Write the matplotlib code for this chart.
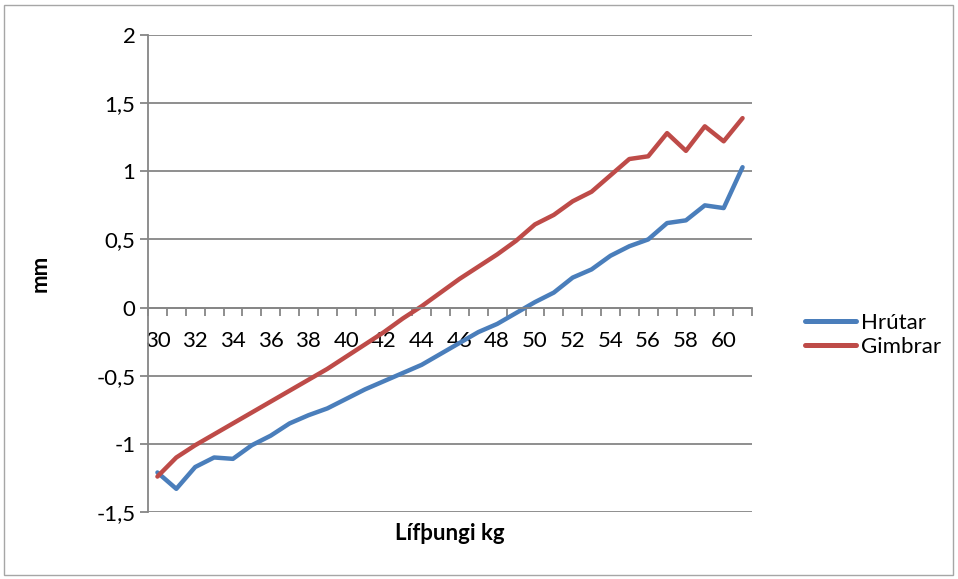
import matplotlib.pyplot as plt
from matplotlib.patches import Rectangle
import numpy as np

plt.rcParams['font.family'] = ['Lato', 'DejaVu Sans']

# --- data ---
weight_kg = list(range(30, 62))
hrutar = [-1.21, -1.33, -1.17, -1.10, -1.11, -1.01, -0.94, -0.85, -0.79, -0.74,
          -0.67, -0.60, -0.54, -0.48, -0.42, -0.34, -0.26, -0.18, -0.12, -0.04,
          0.04, 0.11, 0.22, 0.28, 0.38, 0.45, 0.50, 0.62, 0.64, 0.75, 0.73, 1.03]
gimbrar = [-1.24, -1.10, -1.01, -0.93, -0.85, -0.77, -0.69, -0.61, -0.53, -0.45,
           -0.36, -0.27, -0.18, -0.08, 0.01, 0.11, 0.21, 0.30, 0.39, 0.49,
           0.61, 0.68, 0.78, 0.85, 0.97, 1.09, 1.11, 1.28, 1.15, 1.33, 1.22, 1.39]
y_ticks = [-1.5, -1.0, -0.5, 0.0, 0.5, 1.0, 1.5, 2.0]
y_labels = ["-1,5", "-1", "-0,5", "0", "0,5", "1", "1,5", "2"]

grey = "#868686"
fs = 16

fig = plt.figure(figsize=(9.58, 5.79), dpi=100)
ax = fig.add_axes([148 / 958, 1 - 512 / 579, (752 - 148) / 958, (512 - 35) / 579])

ax.plot(weight_kg, hrutar, color="#4A7EBB", lw=3.2, label="Hrútar", solid_capstyle="round")
ax.plot(weight_kg, gimbrar, color="#BE4B48", lw=3.2, label="Gimbrar", solid_capstyle="round")

ax.set_xlim(29.5, 61.5)
ax.set_ylim(-1.5, 2.0)

# y axis: gridlines + short outward ticks
ax.set_yticks(y_ticks)
ax.set_yticklabels(y_labels, fontsize=fs)
ax.yaxis.grid(True, color=grey, lw=1.3)
ax.tick_params(axis="y", length=6, color=grey, width=1.3, pad=3)

# x axis crosses at 0, ticks between categories, labels every other
ax.spines["bottom"].set_position(("data", 0))
ax.set_xticks(weight_kg[::2])
ax.set_xticklabels([str(v) for v in weight_kg[::2]], fontsize=fs)
ax.set_xticks(np.arange(29.5, 62.0, 1.0), minor=True)
ax.tick_params(axis="x", which="major", length=0, pad=17)
ax.tick_params(axis="x", which="minor", length=6, color=grey, width=1.3)

for side in ["top", "right"]:
    ax.spines[side].set_visible(False)
for side in ["left", "bottom"]:
    ax.spines[side].set_color(grey)
    ax.spines[side].set_linewidth(1.3)
ax.set_axisbelow(True)

fig.text(450 / 958, 1 - 533 / 579, "Lífþungi kg", fontsize=fs, fontweight="bold",
         ha="center", va="center")
fig.text(40 / 958, 1 - 273 / 579, "mm", fontsize=fs, fontweight="bold",
         rotation=90, ha="center", va="center")

leg = fig.legend(loc="center left", bbox_to_anchor=(794 / 958, 1 - 335 / 579),
                 frameon=False, fontsize=fs, handlelength=2.3, handletextpad=0.2,
                 labelspacing=0.2, borderpad=0)
for line in leg.get_lines():
    line.set_linewidth(3.6)

fig.patches.append(Rectangle((4 / 958, 4 / 579), 949 / 958, 570 / 579,
                             transform=fig.transFigure, fill=False,
                             edgecolor="#A6A6A6", lw=1))

fig.savefig("out.png", dpi=100)
